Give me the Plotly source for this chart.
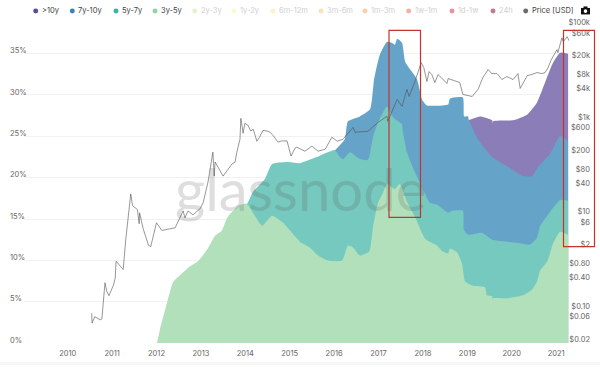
import plotly.graph_objects as go

W, H = 600, 367

legend_names = [">10y", "7y-10y", "5y-7y", "3y-5y", "2y-3y", "1y-2y", "6m-12m", "3m-6m", "1m-3m", "1w-1m", "1d-1w", "24h", "Price [USD]"]
legend_colors = ["#5a4a9c", "#3a82ba", "#3fb0a6", "#93d3a2", "#cbe99f", "#f3f6ae", "#f9e796", "#fbcb80", "#f6a865", "#ec6f4e", "#d13a55", "#8e0f45", "#6b6b6b"]
legend_active = [True, True, True, True, False, False, False, False, False, False, False, False, True]
legend_dot_px = [35.7, 72.3, 116, 155, 194.7, 234, 273, 321, 365, 408.7, 452, 493, 525.7]

green_x = [2012.01, 2012.08, 2012.24, 2012.37, 2012.57, 2012.75, 2012.93, 2013.14, 2013.32, 2013.47, 2013.59, 2013.84, 2013.99, 2014.06, 2014.38, 2014.60, 2014.85, 2015.23, 2015.46, 2015.64, 2015.86, 2016.18, 2016.31, 2016.43, 2016.58, 2016.79, 2016.88, 2016.99, 2017.10, 2017.19, 2017.37, 2017.48, 2017.64, 2017.82, 2018.05, 2018.32, 2018.45, 2018.57, 2018.61, 2018.77, 2018.88, 2018.95, 2019.11, 2019.40, 2019.44, 2019.56, 2019.57, 2019.58, 2019.90, 2020.25, 2020.46, 2020.57, 2020.64, 2020.80, 2020.93, 2021.09, 2021.27]
green_y = [0, 1.68, 4.93, 7.33, 8.41, 9.25, 9.86, 11.3, 12.98, 13.58, 15.14, 16.59, 16.83, 16.7, 14.18, 15.38, 14.54, 12.26, 11.54, 10.58, 9.98, 9.98, 11.78, 11.54, 10.58, 11.06, 14.18, 16.95, 18.15, 19.23, 18.63, 19.23, 17.07, 15.26, 12.62, 11.78, 11.06, 10.82, 11.42, 10.94, 9.62, 7.45, 6.97, 6.73, 5.77, 5.65, 5.17, 5.41, 5.41, 5.77, 6.49, 7.45, 8.77, 9.86, 12.02, 13.46, 13.10]

teal_x = [2013.99, 2014.04, 2014.17, 2014.44, 2014.60, 2014.94, 2015.23, 2015.61, 2016.02, 2016.13, 2016.20, 2016.36, 2016.58, 2016.76, 2016.88, 2016.99, 2017.19, 2017.33, 2017.53, 2017.54, 2017.64, 2017.82, 2018.05, 2018.16, 2018.32, 2018.57, 2018.66, 2018.90, 2018.92, 2019.02, 2019.33, 2019.56, 2019.90, 2020.25, 2020.41, 2020.57, 2020.64, 2020.80, 2020.93, 2021.09, 2021.27]
teal_y = [16.83, 16.83, 18.27, 19.83, 21.63, 21.88, 21.75, 22.48, 23.32, 22.48, 22.24, 23.08, 22.24, 22.12, 25.0, 26.68, 28.61, 27.28, 26.44, 25.84, 23.08, 20.67, 18.03, 16.95, 16.71, 15.75, 15.99, 15.99, 13.7, 13.1, 13.34, 12.5, 12.26, 12.02, 11.9, 12.74, 14.18, 15.38, 16.35, 17.31, 17.19]

blue_x = [2016.02, 2016.24, 2016.31, 2016.58, 2016.81, 2016.90, 2017.03, 2017.19, 2017.30, 2017.37, 2017.42, 2017.53, 2017.60, 2017.75, 2017.87, 2017.98, 2018.09, 2018.57, 2018.61, 2018.90, 2018.93, 2019.02, 2019.03, 2019.24, 2019.56, 2019.92, 2020.25, 2020.46, 2020.59, 2020.86, 2021.09, 2021.27]
blue_y = [23.32, 24.64, 26.8, 27.4, 28.25, 31.85, 34.86, 36.42, 36.3, 36.06, 36.78, 36.3, 34.01, 32.81, 31.85, 29.45, 28.73, 28.85, 29.57, 29.69, 27.4, 27.4, 27.04, 24.64, 22.48, 21.27, 20.19, 20.19, 21.27, 22.84, 25.0, 24.4]

purple_x = [2019.02, 2019.29, 2019.56, 2019.57, 2019.58, 2020.03, 2020.35, 2020.57, 2020.75, 2020.93, 2021.09, 2021.27]
purple_y = [26.92, 27.4, 26.92, 26.2, 26.8, 26.92, 27.64, 29.09, 31.49, 33.89, 35.1, 34.98]

price_x = [2010.54, 2010.55, 2010.61, 2010.73, 2010.77, 2010.79, 2010.82, 2010.84, 2010.88, 2010.93, 2011.03, 2011.07, 2011.09, 2011.25, 2011.31, 2011.36, 2011.42, 2011.46, 2011.57, 2011.61, 2011.62, 2011.70, 2011.82, 2011.87, 2012.00, 2012.12, 2012.30, 2012.42, 2012.60, 2012.64, 2012.71, 2012.82, 2012.98, 2013.05, 2013.16, 2013.27, 2013.30, 2013.32, 2013.50, 2013.70, 2013.77, 2013.81, 2013.88, 2013.90, 2013.95, 2013.99, 2014.06, 2014.12, 2014.18, 2014.26, 2014.32, 2014.40, 2014.51, 2014.56, 2014.62, 2014.74, 2014.81, 2014.89, 2014.94, 2015.03, 2015.12, 2015.16, 2015.34, 2015.50, 2015.64, 2015.80, 2015.95, 2016.07, 2016.20, 2016.43, 2016.47, 2016.76, 2016.99, 2017.19, 2017.21, 2017.42, 2017.53, 2017.64, 2017.69, 2017.82, 2017.96, 2018.02, 2018.09, 2018.14, 2018.20, 2018.27, 2018.34, 2018.42, 2018.54, 2018.57, 2018.83, 2018.90, 2019.11, 2019.24, 2019.35, 2019.47, 2019.55, 2019.67, 2019.74, 2019.78, 2019.89, 2020.03, 2020.14, 2020.19, 2020.35, 2020.45, 2020.57, 2020.68, 2020.75, 2020.82, 2020.89, 2021.02, 2021.04, 2021.13, 2021.16, 2021.25, 2021.29]
price_y = [0.082, 0.051, 0.070, 0.060, 0.0625, 0.105, 0.20, 0.365, 0.24, 0.194, 0.325, 0.45, 1.04, 0.695, 3.13, 7.6, 27.7, 15.7, 12.9, 6.5, 11, 5.07, 2.26, 2.12, 6.8, 4.67, 5.07, 5.3, 12.1, 8.65, 12.1, 10, 13.4, 17.9, 49.5, 212, 66, 131, 66, 119, 131, 212, 398, 1100, 532, 865, 785, 595, 645, 361, 439, 616, 586, 559, 483, 344, 366, 361, 366, 175, 258, 270, 222, 284, 222, 245, 439, 361, 398, 713, 559, 586, 908, 1213, 953, 2767, 1972, 4498, 3199, 6622, 16634, 13062, 6622, 10765, 9290, 6310, 9290, 7925, 6012, 7656, 6310, 3524, 3199, 4498, 8035, 11858, 9750, 9750, 8318, 7295, 8433, 7295, 9750, 4720, 8851, 9290, 10250, 9750, 10250, 13062, 19230, 31260, 27040, 55850, 46000, 58700, 48300]

year_ticks = list(range(2010, 2022))
pct_ticks = [0, 5, 10, 15, 20, 25, 30, 35, 40]
pct_labels = ["0%", "5%", "10%", "15%", "20%", "25%", "30%", "35%", ""]
price_ticks = [100000, 60000, 20000, 8000, 4000, 1000, 600, 200, 80, 40, 10, 6, 2, 0.8, 0.4, 0.1, 0.06, 0.02]
price_labels = ["$100k", "$60k", "$20k", "$8k", "$4k", "$1k", "$600", "$200", "$80", "$40", "$10", "$6", "$2", "$0.80", "$0.40", "$0.10", "$0.06", "$0.02"]

FONT = "Inter, Roboto, sans-serif"


def px(x):
    return x / W


def py(y):
    return 1 - y / H


fig = go.Figure()
for name, xs, ys, color in [
    (">10y", purple_x, purple_y, "#8a7db8"),
    ("7y-10y", blue_x, blue_y, "#66a3c9"),
    ("5y-7y", teal_x, teal_y, "#76c9bf"),
    ("3y-5y", green_x, green_y, "#b2e0bb"),
]:
    fig.add_trace(go.Scatter(x=xs, y=ys, name=name, mode="lines", line=dict(width=0, color=color, shape="spline", smoothing=0.5),
                             fill="tozeroy", fillcolor=color, yaxis="y", showlegend=False))
fig.add_trace(go.Scatter(x=price_x, y=price_y, name="Price [USD]", mode="lines",
                         line=dict(width=0.7, color="rgba(80,80,80,0.85)"), yaxis="y2", showlegend=False))

shapes = [
    dict(type="rect", xref="paper", yref="paper", x0=0, x1=1, y0=0, y1=py(364), fillcolor="#f6f6f6", line_width=0, layer="below"),
]
annotations = []
for name, color, active, dot in zip(legend_names, legend_colors, legend_active, legend_dot_px):
    shapes.append(dict(type="circle", xref="paper", yref="paper", x0=px(dot - 2.5), x1=px(dot + 2.5), y0=py(13.5), y1=py(8.5),
                       fillcolor=color, line_width=0, opacity=1 if active else 0.55))
    annotations.append(dict(text=name, xref="paper", yref="paper", x=px(dot + 5), y=py(11), xanchor="left", yanchor="middle",
                            showarrow=False, borderpad=0, font=dict(family=FONT, size=7.5, color="#444" if active else "#cfcfcf")))
for x0, x1, y0, y1 in [(389, 420.5, 30.5, 218.5), (563.5, 594.5, 30.5, 248)]:
    shapes.append(dict(type="rect", xref="paper", yref="paper", x0=px(x0), x1=px(x1), y0=py(y1), y1=py(y0),
                       line=dict(color="#c2342c", width=1.2), fillcolor="rgba(0,0,0,0)"))
# camera icon
shapes.append(dict(type="rect", xref="paper", yref="paper", x0=px(581), x1=px(590), y0=py(14.5), y1=py(8), fillcolor="#111", line_width=0))
shapes.append(dict(type="rect", xref="paper", yref="paper", x0=px(583.5), x1=px(587.5), y0=py(9), y1=py(6.5), fillcolor="#111", line_width=0))
shapes.append(dict(type="circle", xref="paper", yref="paper", x0=px(583.7), x1=px(587.3), y0=py(13), y1=py(9.4), fillcolor="#fff", line_width=0))

annotations.append(dict(text="glassnode", xref="paper", yref="paper", x=px(300), y=py(190), xanchor="center", yanchor="middle",
                        showarrow=False, font=dict(family="Lato, sans-serif", size=58, color="rgba(90,90,90,0.2)")))

tick_font = dict(family=FONT, size=7.5, color="#666")
fig.update_layout(
    width=W, height=H, margin=dict(l=0, r=0, t=0, b=0), paper_bgcolor="white", plot_bgcolor="white",
    showlegend=False, shapes=shapes, annotations=annotations,
    xaxis=dict(domain=[px(24), px(569)], range=[2009.016, 2021.29], tickmode="array", tickvals=year_ticks,
               ticktext=[str(v) for v in year_ticks], showgrid=False, zeroline=False, showline=False, ticks="",
               tickfont=tick_font, anchor="y", ticklabelstandoff=4),
    yaxis=dict(domain=[py(345), py(12.2)], range=[0, 40], tickmode="array", tickvals=pct_ticks, ticktext=pct_labels,
               anchor="free", position=px(9), side="right", gridcolor="#f1f1f1", gridwidth=1, zeroline=False,
               showline=False, ticks="", tickfont=tick_font, ticklabelshift=-3),
    yaxis2=dict(domain=[py(345), py(12.2)], type="log", range=[-1.716, 5.29], overlaying="y", tickmode="array",
                tickvals=price_ticks, ticktext=price_labels, anchor="free", position=px(590), side="left",
                showgrid=False, zeroline=False, showline=False, ticks="", tickfont=tick_font, ticklabelshift=-3),
)
fig.write_html("out.html", config={"displayModeBar": False}, post_script="document.body.style.margin='0';")
